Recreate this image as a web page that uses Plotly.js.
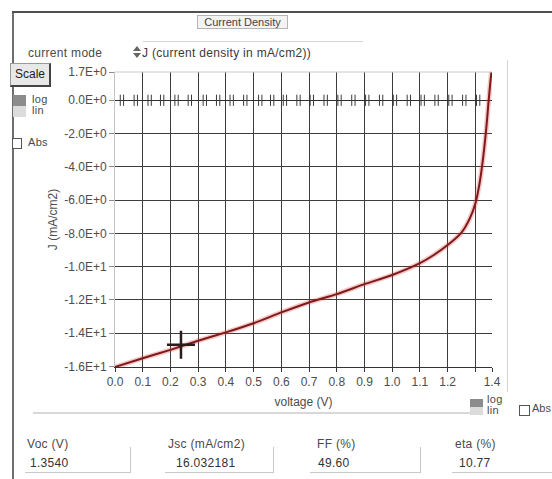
<!DOCTYPE html>
<html>
<head>
<meta charset="utf-8">
<script src="https://cdn.plot.ly/plotly-3.0.1.min.js"></script>
<style>
  body { margin:0; background:#fff; font-family:'Liberation Sans', Arial, sans-serif; }
  #wrap { position:relative; width:552px; height:479px; overflow:hidden; background:#fff; }
  #plot { position:absolute; left:0; top:0; width:552px; height:479px; }
  .ui { position:absolute; pointer-events:none; white-space:nowrap; }
  .txt { font-size:12px; color:#4a4a4a; letter-spacing:0.3px; }
</style>
</head>
<body>
<div id="wrap">
  <div id="plot"></div>
</div>
<script>
(function(){
  // J-V curve
  const voltage = [0, 0.1, 0.2, 0.3, 0.4, 0.5, 0.6, 0.7, 0.8, 0.9, 1.0, 1.1,
                   1.15, 1.2, 1.25, 1.28, 1.30, 1.315, 1.327, 1.337, 1.343, 1.348, 1.353, 1.358];
  const currentDensity = [-16.03, -15.5, -15.0, -14.45, -13.95, -13.4, -12.75, -12.15, -11.65, -11.05, -10.5, -9.79,
                          -9.3, -8.7, -7.95, -7.1, -6.2, -5.0, -3.6, -2.1, -1.0, 0.0, 0.9, 1.7];

  // cursor cross
  const cursorV = [0.238];
  const cursorJ = [-14.7];

  // little double ticks along the zero line
  const zeroTickV = [0.025, 0.075, 0.125, 0.17, 0.222, 0.27, 0.324, 0.372, 0.421, 0.47, 0.524, 0.567,
                     0.613, 0.662, 0.71, 0.76, 0.81, 0.86, 0.91, 0.96, 1.01, 1.06, 1.11, 1.16, 1.21, 1.26, 1.31];

  const xTickVals = [0, 0.1, 0.2, 0.3, 0.4, 0.5, 0.6, 0.7, 0.8, 0.9, 1.0, 1.1, 1.2, 1.3];
  const xTickText = ['0.0','0.1','0.2','0.3','0.4','0.5','0.6','0.7','0.8','0.9','1.0','1.1','1.2',''];
  const xEndVal = [1.36];
  const xEndText = ['1.4'];

  const yTickVals = [0, -2, -4, -6, -8, -10, -12, -14, -16];
  const yTickText = ['0.0E+0','-2.0E+0','-4.0E+0','-6.0E+0','-8.0E+0','-1.0E+1','-1.2E+1','-1.4E+1','-1.6E+1'];
  const yTopVal = [1.7];
  const yTopText = ['1.7E+0'];

  const statLabels = ['Voc (V)', 'Jsc (mA/cm2)', 'FF  (%)', 'eta (%)'];
  const statValues = ['1.3540', '16.032181', '49.60', '10.77'];

  // ---- surrounding panel widgets (plain html text) ----
  const wrap = document.getElementById('wrap');
  function box(css, html, cls){
    const d = document.createElement('div');
    d.className = 'ui' + (cls ? ' ' + cls : '');
    d.style.cssText = css;
    if (html) d.innerHTML = html;
    wrap.appendChild(d);
    return d;
  }

  box('left:12px;top:12px;width:2px;height:467px;background:#6e6e6e;');
  box('left:12px;top:11px;width:540px;height:2px;background:#505050;');
  box('left:197px;top:15px;width:89px;height:12px;border:1px solid #b4b4b4;background:#f3f3f3;font-size:11px;line-height:12px;text-align:center;color:#444;', 'Current Density');
  box('left:28px;top:46px;', 'current mode', 'txt');
  box('left:143px;top:41px;width:220px;height:1px;background:#d4d4d4;');
  box('left:133px;top:46px;width:0;height:0;border-left:4px solid transparent;border-right:4px solid transparent;border-bottom:5px solid #666;');
  box('left:133px;top:53px;width:0;height:0;border-left:4px solid transparent;border-right:4px solid transparent;border-top:5px solid #666;');
  box('left:142px;top:46px;color:#3a3a3a;', 'J (current density in mA/cm2))', 'txt');

  box('left:10px;top:63px;width:38px;height:21px;border:1px solid #999;border-right:2px solid #444;border-bottom:2px solid #444;background:#e8e8e8;font-size:12px;line-height:21px;text-align:center;color:#222;', 'Scale');
  box('left:13px;top:95px;width:13px;height:11px;background:#8c8c8c;');
  box('left:13px;top:106px;width:13px;height:11px;background:#dcdcdc;');
  box('left:32px;top:93px;font-size:11px;', 'log', 'txt');
  box('left:32px;top:104px;font-size:11px;', 'lin', 'txt');
  box('left:12px;top:138px;width:8px;height:9px;border:1px solid #555;background:#fff;');
  box('left:28px;top:136px;font-size:11px;', 'Abs', 'txt');

  box('left:33px;top:412px;width:437px;height:2px;background:#d8d8d8;');
  box('left:507px;top:60px;width:1px;height:332px;background:#d2d2d2;');
  box('left:470px;top:399px;width:13px;height:8px;background:#8c8c8c;');
  box('left:470px;top:407px;width:13px;height:8px;background:#dcdcdc;');
  box('left:487px;top:393px;font-size:11px;', 'log', 'txt');
  box('left:487px;top:404px;font-size:11px;', 'lin', 'txt');
  box('left:519px;top:405px;width:9px;height:9px;border:1px solid #555;background:#fff;');
  box('left:532px;top:402px;font-size:11px;letter-spacing:0;', 'Abs', 'txt');

  const statLabelX = [27, 168, 317, 455];
  const statValueX = [30, 176, 318, 459];
  const fieldX = [[25, 130], [165, 273], [310, 420], [452, 560]];
  statLabels.forEach(function(lbl, i){
    box('left:' + statLabelX[i] + 'px;top:437px;', lbl, 'txt');
    box('left:' + statValueX[i] + 'px;top:456px;color:#333;', statValues[i], 'txt');
    box('left:' + fieldX[i][0] + 'px;top:472px;width:' + (fieldX[i][1] - fieldX[i][0]) + 'px;height:1px;background:#c8c8c8;');
    box('left:' + fieldX[i][1] + 'px;top:447px;width:1px;height:26px;background:#c8c8c8;');
  });

  if (typeof Plotly === 'undefined') {
    document.getElementById('plot').innerHTML = '<p style="padding:16px;color:#c00">Plotly load failed</p>';
    return;
  }

  const data = [
    {
      x: zeroTickV.flatMap(function(v){ return [v - 0.006, v + 0.006]; }),
      y: zeroTickV.flatMap(function(){ return [0, 0]; }),
      xaxis: 'x2', yaxis: 'y2',
      mode: 'markers', type: 'scatter', hoverinfo: 'skip',
      marker: { symbol: 'line-ns', size: 8, line: { color: '#3a3a3a', width: 1 } }
    },
    {
      x: voltage, y: currentDensity,
      mode: 'lines', type: 'scatter', hoverinfo: 'skip',
      line: { color: 'rgba(225,70,70,0.3)', width: 5, shape: 'spline', smoothing: 0.5 }
    },
    {
      x: voltage, y: currentDensity,
      mode: 'lines', type: 'scatter',
      line: { color: '#7e1a1a', width: 2, shape: 'spline', smoothing: 0.5 }
    },
    {
      x: cursorV, y: cursorJ,
      mode: 'markers', type: 'scatter', hoverinfo: 'skip',
      marker: { symbol: 'cross-thin', size: 20, line: { color: '#2b1b1b', width: 2.5 } }
    }
  ];

  const tickFont = { family: 'Liberation Sans, Arial, sans-serif', size: 12, color: '#4d4d4d' };

  const layout = {
    width: 552, height: 479,
    margin: { l: 115, r: 60, t: 72, b: 112, pad: 0 },
    paper_bgcolor: 'rgba(0,0,0,0)', plot_bgcolor: '#fff',
    showlegend: false,
    font: tickFont,
    xaxis: {
      range: [0, 1.36], tickvals: xTickVals, ticktext: xTickText, tickfont: tickFont,
      showgrid: true, gridcolor: '#3d3d3d', gridwidth: 1, zeroline: false,
      showline: true, linecolor: '#333', linewidth: 1,
      ticks: 'outside', ticklen: 4, tickcolor: '#333',
      title: { text: 'voltage (V)', font: tickFont, standoff: 9 },
      fixedrange: true
    },
    xaxis2: {
      overlaying: 'x', anchor: 'y2', range: [0, 1.36],
      tickvals: xEndVal, ticktext: xEndText, tickfont: tickFont,
      showgrid: false, zeroline: false, showline: false,
      ticks: 'outside', ticklen: 4, tickcolor: '#333', fixedrange: true
    },
    yaxis: {
      range: [-16.03, 1.7], tickvals: yTickVals, ticktext: yTickText, tickfont: tickFont,
      showgrid: true, gridcolor: '#3d3d3d', gridwidth: 1,
      zeroline: true, zerolinecolor: '#2e2e2e', zerolinewidth: 1,
      showline: true, linecolor: '#c4c4c4', linewidth: 1,
      ticks: 'outside', ticklen: 5, tickcolor: '#8a8a8a',
      title: { text: 'J (mA/cm2)', font: tickFont, standoff: 4 },
      fixedrange: true
    },
    yaxis2: {
      overlaying: 'y', anchor: 'x2', side: 'left', range: [-16.03, 1.7],
      tickvals: yTopVal, ticktext: yTopText, tickfont: tickFont,
      showgrid: false, zeroline: false, showline: false,
      ticks: 'outside', ticklen: 5, tickcolor: '#8a8a8a', fixedrange: true
    },
    shapes: [
      { type: 'line', xref: 'paper', yref: 'paper', x0: 0, x1: 1, y0: 1, y1: 1,
        line: { color: '#c8c8c8', width: 1 } }
    ]
  };

  Plotly.newPlot('plot', data, layout, { displayModeBar: false, responsive: false, staticPlot: true });
})();
</script>
</body>
</html>
